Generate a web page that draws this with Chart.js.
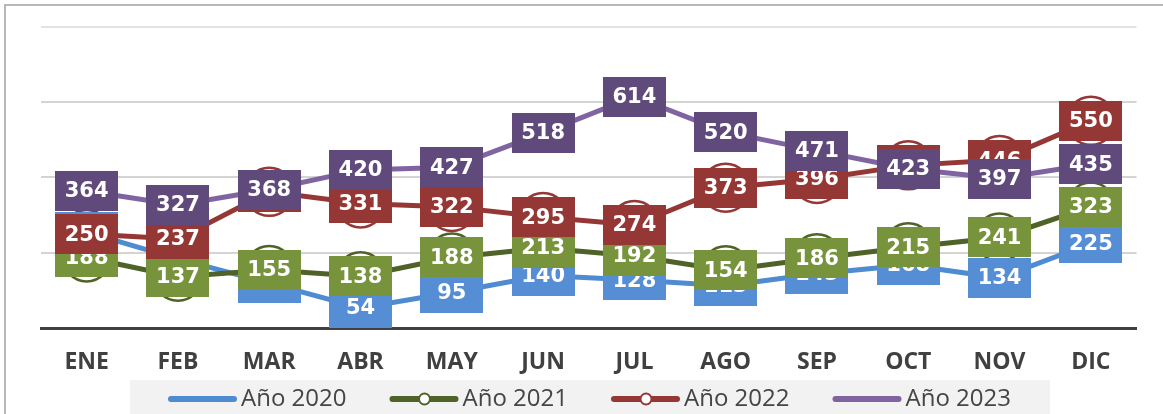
<!DOCTYPE html>
<html>
<head>
<meta charset="utf-8">
<script src="https://cdn.jsdelivr.net/npm/chart.js@4/dist/chart.umd.min.js"></script>
<style>
  html, body { margin: 0; padding: 0; background: #ffffff; }
  #wrap { position: relative; width: 1163px; height: 414px; }
</style>
</head>
<body>
<div id="wrap"><canvas id="chart" width="1163" height="414"></canvas></div>
<script>
// Monthly values per year
const months = ['ENE', 'FEB', 'MAR', 'ABR', 'MAY', 'JUN', 'JUL', 'AGO', 'SEP', 'OCT', 'NOV', 'DIC'];
const seriesNames = ['Año 2020', 'Año 2021', 'Año 2022', 'Año 2023'];
const values2020 = [255, 184, 120, 54, 95, 140, 128, 113, 145, 168, 134, 225];
const values2021 = [188, 137, 155, 138, 188, 213, 192, 154, 186, 215, 241, 323];
const values2022 = [250, 237, 362, 331, 322, 295, 274, 373, 396, 432, 446, 550];
const values2023 = [364, 327, 368, 420, 427, 518, 614, 520, 471, 423, 397, 435];
const yTicks = [0, 200, 400, 600, 800];

const lineColors  = ['#4f8bd0', '#4f6228', '#953735', '#8064a2'];
const labelColors = ['#558ed5', '#77933c', '#953735', '#604a7b'];
const hasMarker   = [false, true, true, false];

const allValues = [values2020, values2021, values2022, values2023];

const datasets = allValues.map((vals, i) => ({
  label: seriesNames[i],
  data: vals,
  borderColor: lineColors[i],
  backgroundColor: lineColors[i],
  borderWidth: 5,
  tension: 0,
  fill: false,
  pointRadius: hasMarker[i] ? 24 : 0,
  pointHoverRadius: hasMarker[i] ? 24 : 0,
  pointBackgroundColor: '#ffffff',
  pointBorderColor: lineColors[i],
  pointBorderWidth: 2.5,
  order: 4 - i,
  clip: false
}));

// Value boxes on every point, later years on top
const valueBoxes = {
  id: 'valueBoxes',
  afterDatasetsDraw(chart) {
    const ctx = chart.ctx;
    const w = 63, h = 40;
    ctx.save();
    ctx.font = 'bold 21px "DejaVu Sans", Verdana, sans-serif';
    ctx.textAlign = 'center';
    ctx.textBaseline = 'middle';
    chart.data.datasets.forEach((ds, di) => {
      const meta = chart.getDatasetMeta(di);
      meta.data.forEach((pt, i) => {
        const x = pt.x, y = pt.y;
        ctx.fillStyle = labelColors[di];
        ctx.fillRect(Math.round(x - w / 2), Math.round(y - h / 2), w, h);
        ctx.fillStyle = '#ffffff';
        ctx.fillText(String(ds.data[i]), x, y + 1);
      });
    });
    ctx.restore();
  }
};

// Frame, legend panel and legend entries
const framing = {
  id: 'framing',
  beforeDraw(chart) {
    const ctx = chart.ctx;
    ctx.save();
    ctx.fillStyle = '#ffffff';
    ctx.fillRect(0, 0, chart.width, chart.height);
    ctx.strokeStyle = '#b8b8b8';
    ctx.lineWidth = 2;
    ctx.beginPath();
    ctx.moveTo(5, chart.height);
    ctx.lineTo(5, 5);
    ctx.lineTo(chart.width, 5);
    ctx.stroke();
    ctx.restore();
  },
  afterDraw(chart) {
    const ctx = chart.ctx;
    ctx.save();
    ctx.fillStyle = '#f2f2f2';
    ctx.fillRect(130, 380, 920, 40);
    ctx.font = '24px "Open Sans", sans-serif';
    ctx.textBaseline = 'middle';
    ctx.textAlign = 'left';
    chart.data.datasets.forEach((ds, i) => {
      const x0 = 168 + i * 221.5;
      const y = 399;
      ctx.strokeStyle = lineColors[i];
      ctx.lineWidth = 6;
      ctx.lineCap = 'round';
      ctx.beginPath();
      ctx.moveTo(x0 + 3, y);
      ctx.lineTo(x0 + 66, y);
      ctx.stroke();
      if (hasMarker[i]) {
        ctx.beginPath();
        ctx.arc(x0 + 35, y, 5.5, 0, Math.PI * 2);
        ctx.fillStyle = '#ffffff';
        ctx.fill();
        ctx.lineWidth = 2;
        ctx.stroke();
      }
      ctx.fillStyle = '#454545';
      ctx.fillText(ds.label, x0 + 73, y);
    });
    ctx.restore();
  }
};

new Chart(document.getElementById('chart'), {
  type: 'line',
  data: { labels: months, datasets },
  options: {
    responsive: false,
    animation: false,
    devicePixelRatio: 1,
    layout: { padding: { left: 41, right: 21, top: 18, bottom: 18 } },
    plugins: { legend: { display: false }, tooltip: { enabled: false } },
    scales: {
      x: {
        offset: true,
        grid: { display: false, drawTicks: false },
        border: { display: true, color: '#404040', width: 3 },
        ticks: {
          color: '#404040',
          padding: 20,
          font: { family: '"Open Sans", sans-serif', size: 23, weight: 'bold' }
        }
      },
      y: {
        min: yTicks[0],
        max: yTicks[yTicks.length - 1],
        afterBuildTicks(scale) { scale.ticks = yTicks.map(v => ({ value: v })); },
        ticks: { display: false },
        grid: {
          drawTicks: false,
          lineWidth: 2,
          color: c => (c.tick && c.tick.value === 800 ? '#e3e3e3' : '#d4d4d4')
        },
        border: { display: false }
      }
    }
  },
  plugins: [framing, valueBoxes]
});
</script>
</body>
</html>
